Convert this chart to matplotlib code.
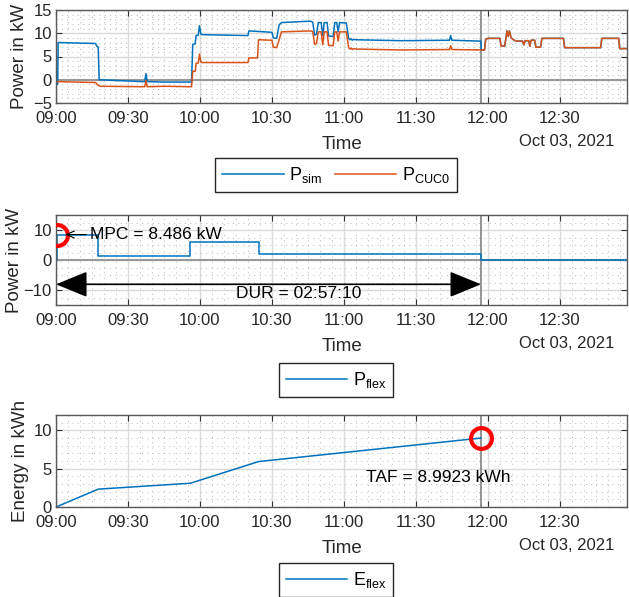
import numpy as np
import matplotlib.pyplot as plt
import matplotlib.dates as mdates
from matplotlib.ticker import MultipleLocator

plt.rcParams['font.family'] = ['Liberation Sans', 'DejaVu Sans']
plt.rcParams['mathtext.fontset'] = 'custom'
plt.rcParams['mathtext.rm'] = 'Liberation Sans'
plt.rcParams['mathtext.it'] = 'Liberation Sans'

# minutes after 09:00 on Oct 03, 2021
cuc_min = [0, 1, 16.5, 17.5, 18.5, 37, 37.5, 38, 45, 56.5, 57, 58, 58.4, 59.3, 59.8,
           60.4, 61, 80, 80.4, 84, 84.4, 90, 90.6, 92, 93, 94, 106, 107, 107.8, 108.6,
           109.3, 110.5, 111.2, 111.8, 113, 113.6, 115.5, 116.2, 117, 117.6, 118.2, 121,
           122, 122.5, 123, 123.5, 124, 125, 144, 164, 164.5, 165, 177.1]
cuc_kw = [-0.4, -0.4, -0.6, -1.2, -1.4, -1.5, -0.2, -1.5, -1.4, -1.5, 1.8, 1.8, 3.5, 3.6, 5.5,
          3.8, 3.7, 3.7, 4.7, 4.7, 8.6, 8.5, 7.0, 6.9, 8.6, 10.3, 10.5, 10.4, 7.6, 7.8,
          10.3, 10.3, 7.5, 10.3, 10.3, 7.4, 7.3, 10.3, 10.3, 8.3, 10.3, 10.3,
          6.9, 6.6, 6.8, 6.5, 6.7, 6.6, 6.4, 6.5, 7.3, 6.5, 6.4]

sim_min = [0, 0.7, 0.9, 16.5, 17, 17.6, 18, 36, 37, 37.5, 38, 45, 56.5, 57, 58, 58.4,
           59.3, 59.8, 60.4, 61, 80, 80.4, 84, 90, 90.6, 92, 93, 94, 106, 107, 107.8,
           108.6, 109.3, 110.5, 111.2, 111.8, 113, 113.6, 115.5, 116.2, 117, 117.6, 118.2,
           121, 122, 122.5, 123, 123.5, 124, 125, 144, 164, 164.5, 165, 177.1]
sim_kw = [-1.0, -1.0, 8.0, 7.8, 7.2, 7.0, 0.0, -0.4, -0.4, 1.3, -0.4, -0.5, -0.5, 7.6, 7.7, 9.5,
          9.6, 11.6, 9.8, 9.7, 9.5, 10.5, 10.4, 10.2, 9.0, 8.9, 11.8, 12.3, 12.6, 12.4, 9.6,
          9.8, 12.3, 12.3, 9.5, 12.3, 12.3, 9.4, 9.3, 12.3, 12.3, 10.3, 12.3,
          12.2, 8.9, 8.6, 8.8, 8.5, 8.7, 8.6, 8.4, 8.5, 9.5, 8.5, 8.3]

# after the flexibility window both series coincide
tail_min = [177.2, 178.6, 179.1, 180, 185, 185.5, 187, 187.5, 188, 188.5, 189, 189.7, 191,
            192, 194.5, 195, 195.5, 197, 197.5, 198, 199.5, 200, 202, 202.5, 211.5, 212,
            227, 227.5, 234.5, 235, 238]
tail_kw = [6.4, 6.4, 8.7, 8.9, 8.9, 7.3, 7.2, 8.8, 10.5, 9.3, 10.5, 9.0, 8.5,
           8.3, 8.3, 7.5, 8.4, 8.4, 7.2, 8.5, 8.5, 7.0, 7.0, 8.9, 8.9, 6.9,
           6.9, 8.9, 8.9, 6.7, 6.7]

flex_min = [0, 0.5, 17.6, 56, 84.5, 177.17, 238]
flex_kw = [0, 8.486, 1.3, 6.1, 2.0, 0, 0]

e_min = [0, 17.6, 56, 84.5, 177.17]
e_kwh = [0, 2.33, 3.1, 5.93, 8.9923]

mpc = 8.486
mpc_min = 0.5
end_min = 177.17  # 02:57:10 after start
taf = 8.9923

t0 = np.datetime64('2021-10-03T09:00:00')


def to_time(m):
    return t0 + (np.asarray(m, dtype=float) * 60).round().astype('timedelta64[s]')


blue = '#0072BD'
orange = '#D95319'
txt = '0.15'

fig = plt.figure(figsize=(6.29, 5.97), dpi=100)
W, H = 629, 597
left, right = 56, 627
boxes = [(10, 103), (215, 305), (415, 507)]
axes = [fig.add_axes([left / W, 1 - b / H, (right - left) / W, (b - t) / H]) for t, b in boxes]
ax1, ax2, ax3 = axes

ax1.plot(to_time(sim_min + tail_min), sim_kw + tail_kw, color=blue, lw=1.1, label=r'P$_\mathregular{sim}$')
ax1.plot(to_time(cuc_min + tail_min), cuc_kw + tail_kw, color=orange, lw=1.1, label=r'P$_\mathregular{CUC0}$')

ax2.plot(to_time(flex_min), flex_kw, color=blue, lw=1.1, drawstyle='steps-post', label=r'P$_\mathregular{flex}$')
ax2.plot(to_time([mpc_min]), [mpc], 'o', ms=15, mfc='none', mec='red', mew=3, zorder=5)
ax2.annotate('MPC = 8.486 kW', xy=(to_time(3.8), mpc), xytext=(to_time(14.3), mpc),
             fontsize=12.5, color='k', va='center', ha='left', zorder=6,
             arrowprops=dict(arrowstyle='->,head_length=0.45,head_width=0.2', color='k',
                             lw=0.8, shrinkA=1, shrinkB=0))
ax2.annotate('', xy=(to_time(end_min), -8.1), xytext=(to_time(0), -8.1),
             arrowprops=dict(arrowstyle='<|-|>,head_length=1.1,head_width=0.45',
                             mutation_scale=18, color='k', lw=1.2, shrinkA=0, shrinkB=0))
ax2.text(to_time(101), -11.3, 'DUR = 02:57:10', fontsize=12.5, color='k', ha='center', va='center')

ax3.plot(to_time(e_min), e_kwh, color=blue, lw=1.1, label=r'E$_\mathregular{flex}$')
ax3.plot(to_time([end_min]), [taf], 'o', ms=15, mfc='none', mec='red', mew=3, zorder=5)
ax3.text(to_time(159.5), 3.8, 'TAF = 8.9923 kWh', fontsize=12.5, color='k', ha='center', va='center')

ax1.set_ylim(-5, 15)
ax1.yaxis.set_major_locator(MultipleLocator(5))
ax1.yaxis.set_minor_locator(MultipleLocator(1))
ax2.set_ylim(-15, 15)
ax2.yaxis.set_major_locator(MultipleLocator(10))
ax2.yaxis.set_minor_locator(MultipleLocator(2.5))
ax3.set_ylim(0, 12)
ax3.yaxis.set_major_locator(MultipleLocator(5))
ax3.yaxis.set_minor_locator(MultipleLocator(1))

ylabels = ['Power in kW', 'Power in kW', 'Energy in kWh']
label_x = [28, 23, 29]
legend_y = [175, 380, 580]
for ax, yl, lx, ly in zip(axes, ylabels, label_x, legend_y):
    ax.set_xlim(to_time(0), to_time(238))
    ax.xaxis.set_major_locator(mdates.MinuteLocator(byminute=[0, 30]))
    ax.xaxis.set_minor_locator(mdates.MinuteLocator(byminute=range(0, 60, 5)))
    ax.xaxis.set_major_formatter(mdates.DateFormatter('%H:%M'))
    ax.grid(which='major', color='0.86', lw=1.0)
    ax.grid(which='minor', color='0.72', ls=(0, (1, 4.5)), lw=0.7)
    ax.set_axisbelow(True)
    ax.axvline(to_time(end_min), color='0.5', lw=1.2, zorder=1.8)
    ax.tick_params(which='major', direction='in', top=True, right=True, length=4, width=0.8,
                   color='0.2', labelcolor=txt, labelsize=12)
    ax.tick_params(axis='x', which='major', pad=6)
    ax.tick_params(axis='y', which='major', pad=3)
    ax.tick_params(which='minor', length=0)
    for s in ax.spines.values():
        s.set_color('0.35')
        s.set_linewidth(1.0)
    ax.set_xlabel('Time', fontsize=13.5, color=txt, labelpad=7)
    ax.set_ylabel(yl, fontsize=13.5, color=txt)
    ax.yaxis.set_label_coords((lx - left) / (right - left), 0.5)
    ax.annotate('Oct 03, 2021', xy=(614 / W, 0), xycoords=('figure fraction', 'axes fraction'),
                xytext=(0, -28), textcoords='offset points', ha='right', va='center',
                fontsize=12, color=txt)
    h, l = ax.get_legend_handles_labels()
    fig.legend(h, l, loc='center', bbox_to_anchor=(336 / W, 1 - ly / H), ncol=len(h),
               fontsize=13, frameon=True, fancybox=False, edgecolor='0.15', handlelength=3.4,
               handletextpad=0.3, columnspacing=0.7, borderpad=0.4, framealpha=1)

for ax in (ax1, ax2):
    ax.axhline(0, color='0.6', lw=1.5, zorder=1.5)

fig.savefig('out.png', dpi=100)
